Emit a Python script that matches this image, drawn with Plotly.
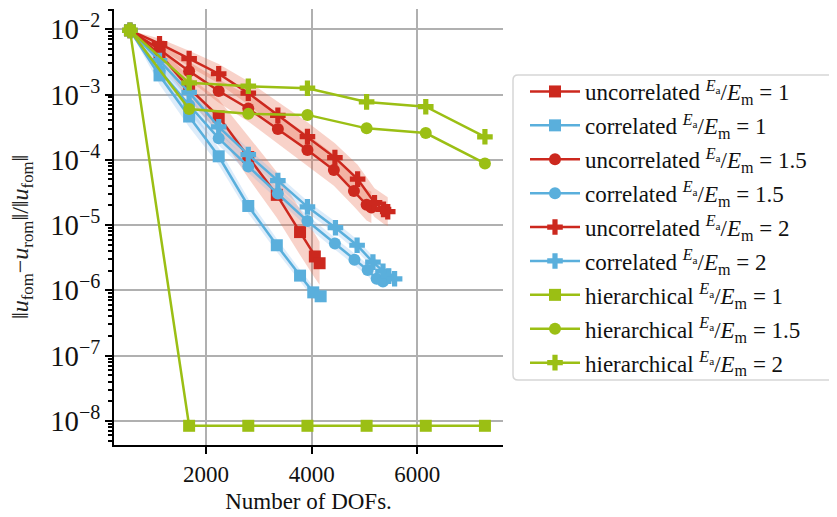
import plotly.graph_objects as go

# ---------------- data ----------------
unc1_x = [560, 1120, 1680, 2240, 2800, 3340, 3780, 4060, 4150]
unc1_y = [9.6e-3, 4.2e-3, 1.25e-3, 4.6e-4, 1.1e-4, 2.9e-5, 7.8e-6, 3.3e-6, 2.6e-6]
unc1_spread = [0.0, 0.1, 0.18, 0.26, 0.32, 0.35, 0.35, 0.33, 0.33]

cor1_x = [560, 1120, 1680, 2240, 2800, 3340, 3780, 4030, 4170]
cor1_y = [9.6e-3, 1.96e-3, 4.6e-4, 1.13e-4, 1.96e-5, 4.9e-6, 1.68e-6, 9.3e-7, 8.1e-7]
cor1_spread = [0.0, 0.14, 0.16, 0.13, 0.11, 0.1, 0.09, 0.09, 0.09]

unc15_x = [560, 1120, 1680, 2240, 2800, 3360, 3920, 4420, 4800, 5040, 5130]
unc15_y = [9.6e-3, 4.9e-3, 2.28e-3, 1.13e-3, 6.1e-4, 2.97e-4, 1.41e-4, 6.95e-5, 3.33e-5, 2.04e-5, 1.86e-5]
unc15_spread = [0.0, 0.1, 0.14, 0.18, 0.2, 0.22, 0.24, 0.24, 0.24, 0.24, 0.24]

cor15_x = [560, 1120, 1680, 2240, 2800, 3360, 3920, 4440, 4810, 5060, 5230, 5350]
cor15_y = [9.6e-3, 2.34e-3, 6.9e-4, 2.13e-4, 7.9e-5, 3.03e-5, 1.15e-5, 5.2e-6, 2.95e-6, 2.04e-6, 1.5e-6, 1.37e-6]
cor15_spread = [0.0, 0.12, 0.13, 0.11, 0.09, 0.09, 0.09, 0.09, 0.09, 0.09, 0.09, 0.09]

unc2_x = [560, 1120, 1680, 2240, 2800, 3360, 3920, 4440, 4870, 5190, 5360, 5440]
unc2_y = [9.6e-3, 6.0e-3, 3.55e-3, 2.08e-3, 1.05e-3, 4.8e-4, 2.26e-4, 1.08e-4, 5.05e-5, 2.2e-5, 1.74e-5, 1.6e-5]
unc2_spread = [0.0, 0.08, 0.12, 0.15, 0.18, 0.2, 0.22, 0.22, 0.22, 0.22, 0.22, 0.22]

cor2_x = [560, 1120, 1680, 2240, 2800, 3360, 3920, 4450, 4860, 5160, 5350, 5460, 5570]
cor2_y = [9.6e-3, 3.3e-3, 1.08e-3, 3.2e-4, 1.2e-4, 4.8e-5, 1.9e-5, 9.1e-6, 4.9e-6, 2.7e-6, 1.96e-6, 1.65e-6, 1.5e-6]
cor2_spread = [0.0, 0.11, 0.11, 0.1, 0.09, 0.09, 0.09, 0.09, 0.09, 0.09, 0.09, 0.09, 0.09]

hier_x = [560, 1680, 2800, 3920, 5040, 6160, 7280]
hier1_y = [9.6e-3, 8.4e-9, 8.4e-9, 8.4e-9, 8.4e-9, 8.4e-9, 8.4e-9]
hier15_y = [9.6e-3, 6.0e-4, 5.05e-4, 4.87e-4, 3.03e-4, 2.57e-4, 8.8e-5]
hier2_y = [9.6e-3, 1.51e-3, 1.34e-3, 1.25e-3, 7.7e-4, 6.5e-4, 2.25e-4]

x_ticks = [2000, 4000, 6000]

# ---------------- style ----------------
RED = "#cc281e"
BLUE = "#5aafdc"
GREEN = "#9bbf14"
RED_BAND = "rgba(232,105,75,0.30)"
BLUE_BAND = "rgba(120,180,235,0.25)"
FONT = "Liberation Serif"
RATIO = "<sup><i>E</i><sub>a</sub></sup>/<i>E</i><sub>m</sub>"

# page body has an 8px margin: the figure is sized so it ends at the window edges
W, H = 829, 509
PL, PR, PT, PB = 106, 334, 1, 72          # plot area 389 x 436 px
PW, PH = W - PL - PR, H - PT - PB

fig = go.Figure()

def band(x, y, s, color):
    hi = [v * 10 ** d for v, d in zip(y, s)]
    lo = [v / 10 ** d for v, d in zip(y, s)]
    fig.add_trace(go.Scatter(x=list(x) + list(x)[::-1], y=hi + lo[::-1], fill="toself",
                             fillcolor=color, line=dict(width=0), mode="lines",
                             showlegend=False, hoverinfo="skip"))

band(unc1_x, unc1_y, unc1_spread, RED_BAND)
band(unc15_x, unc15_y, unc15_spread, RED_BAND)
band(unc2_x, unc2_y, unc2_spread, RED_BAND)
band(cor1_x, cor1_y, cor1_spread, BLUE_BAND)
band(cor15_x, cor15_y, cor15_spread, BLUE_BAND)
band(cor2_x, cor2_y, cor2_spread, BLUE_BAND)

series = [
    ("uncorrelated", "1", unc1_x, unc1_y, RED, "square"),
    ("correlated", "1", cor1_x, cor1_y, BLUE, "square"),
    ("uncorrelated", "1.5", unc15_x, unc15_y, RED, "circle"),
    ("correlated", "1.5", cor15_x, cor15_y, BLUE, "circle"),
    ("uncorrelated", "2", unc2_x, unc2_y, RED, "cross"),
    ("correlated", "2", cor2_x, cor2_y, BLUE, "cross"),
    ("hierarchical", "1", hier_x, hier1_y, GREEN, "square"),
    ("hierarchical", "1.5", hier_x, hier15_y, GREEN, "circle"),
    ("hierarchical", "2", hier_x, hier2_y, GREEN, "cross"),
]
for i, (lab, r, x, y, c, sym) in enumerate(series):
    fig.add_trace(go.Scatter(
        x=x, y=y, mode="lines+markers", name=f"{lab} {RATIO} = {r}",
        legendgroup=f"g{i}",
        line=dict(color=c, width=2.5),
        marker=dict(color=c, symbol=sym, size=12 if sym != "cross" else 13,
                    line=dict(width=0)),
    ))

# legend frame (window pixels -> paper fractions)
def px(xw):
    return (xw - 8 - PL) / PW

def py(yw):
    return (H - PB - (yw - 8)) / PH

lx0, lx1, ly0, ly1 = px(513), px(834), py(380), py(75)
rx, ry = 5 / PW, 5 / PH
path = (f"M{lx0+rx},{ly1} L{lx1-rx},{ly1} Q{lx1},{ly1} {lx1},{ly1-ry} "
        f"L{lx1},{ly0+ry} Q{lx1},{ly0} {lx1-rx},{ly0} L{lx0+rx},{ly0} "
        f"Q{lx0},{ly0} {lx0},{ly0+ry} L{lx0},{ly1-ry} Q{lx0},{ly1} {lx0+rx},{ly1} Z")
fig.add_shape(type="path", path=path, xref="paper", yref="paper",
              line=dict(color="#d6d6d6", width=1.5), fillcolor="rgba(255,255,255,0.8)",
              layer="above")

fig.add_annotation(
    text="‖<i>u</i><sub>fom</sub>−<i>u</i><sub>rom</sub>‖/‖<i>u</i><sub>fom</sub>‖",
    xref="paper", yref="paper", x=px(22), y=py(237), textangle=-90,
    showarrow=False, font=dict(family=FONT, size=24, color="#222"),
    xanchor="center", yanchor="middle")

fig.update_layout(
    width=W, height=H,
    margin=dict(l=PL, r=PR, t=PT, b=PB, autoexpand=False),
    paper_bgcolor="white", plot_bgcolor="white",
    font=dict(family=FONT, color="#111"),
    showlegend=True,
    legend=dict(x=px(525), y=py(70), xanchor="left", yanchor="top",
                bgcolor="rgba(0,0,0,0)", borderwidth=0, itemwidth=50,
                font=dict(family=FONT, size=23, color="#111"),
                tracegroupgap=1),
    xaxis=dict(range=[258, 7622], tickvals=x_ticks, ticktext=[str(v) for v in x_ticks],
               automargin=False,
               showgrid=True, gridcolor="#b0b0b0", gridwidth=2,
               showline=True, linecolor="black", linewidth=2, mirror=False,
               ticks="outside", ticklen=7, tickwidth=2, tickcolor="black",
               tickfont=dict(family=FONT, size=23, color="#111"), zeroline=False,
               title=dict(text="Number of DOFs.", font=dict(family=FONT, size=23, color="#111"),
                          standoff=7)),
    yaxis=dict(type="log", range=[-8.37, -1.69], dtick=1, exponentformat="power",
               automargin=False,
               showgrid=True, gridcolor="#b0b0b0", gridwidth=2,
               showline=True, linecolor="black", linewidth=2, mirror=False,
               ticks="outside", ticklen=7, tickwidth=2, tickcolor="black",
               tickfont=dict(family=FONT, size=23, color="#111"), zeroline=False,
               minor=dict(ticks="outside", ticklen=4, tickwidth=1.5, tickcolor="black",
                          showgrid=False)),
)

fig.write_html("out.html")
